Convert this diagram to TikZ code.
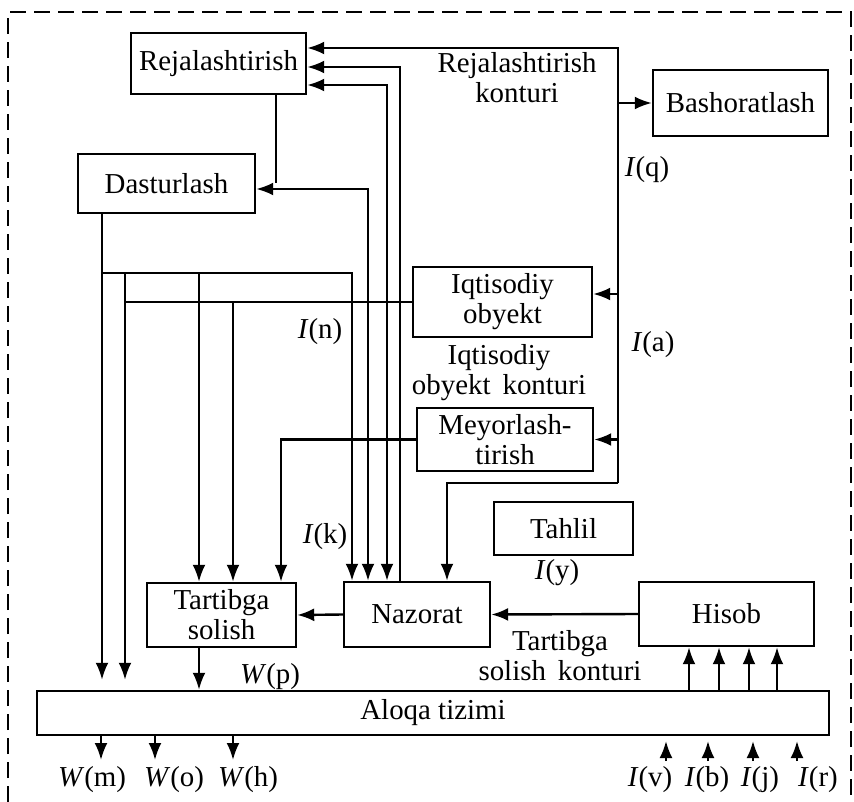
\documentclass[tikz,border=0pt]{standalone}
\usepackage{fontspec}
\setmainfont{Liberation Serif}
\usetikzlibrary{arrows.meta}
\newcommand{\sigI}[1]{\textit{I}(#1)}
\newcommand{\sigW}[1]{\textit{W}(#1)}
\tikzset{
  blok/.style={draw,inner sep=0pt,align=center},
  yozuv/.style={inner sep=0pt,align=center},
  ramka/.style={dash pattern=on 16bp off 8bp},
}
\begin{document}
\begin{tikzpicture}[x=1bp,y=-1bp,>={Latex[length=17bp,width=13bp]},line width=2.4bp,font=\fontsize{29}{30}\selectfont]
	\useasboundingbox (0,0) rectangle (854,802);
	\draw[ramka] (8,802) -- (8,12) -- (851,12) -- (851,802);
	% bloklar
	\node[blok,minimum width=175bp,minimum height=61bp] (rej) at (218.5,63.5) {Rejalashtirish};
	\node[blok,minimum width=177bp,minimum height=59bp] (dast) at (166.5,183.5) {Dasturlash};
	\node[blok,minimum width=175bp,minimum height=66bp] (bash) at (740.5,103) {Bashoratlash};
	\node[blok,minimum width=179bp,minimum height=70bp] (iqt) at (502.5,302) {Iqtisodiy\\obyekt};
	\node[blok,minimum width=176bp,minimum height=63bp] (mey) at (505,439.5) {Meyorlash-\\tirish};
	\node[blok,minimum width=139bp,minimum height=53bp] (tahlil) at (563.5,528.5) {Tahlil};
	\node[blok,minimum width=146bp,minimum height=65bp] (naz) at (417,614.5) {Nazorat};
	\node[blok,minimum width=175bp,minimum height=64bp] (hisob) at (726.5,614) {Hisob};
	\node[blok,minimum width=149bp,minimum height=64bp] (tart) at (221.5,615) {Tartibga\\solish};
	\node[blok,minimum width=792bp,minimum height=44bp] (aloqa) at (433,713) {Aloqa tizimi};
	% yozuvlar
	\node[yozuv] (rejk) at (517,78) {Rejalashtirish\\konturi};
	\node[yozuv] (iqtk) at (499,373) {Iqtisodiy\\obyekt\, konturi};
	\node[yozuv] (tartk) at (560,656) {Tartibga\\solish\, konturi};
	\node[yozuv] (iq) at (647,170) {\sigI{q}};
	\node[yozuv] (ia) at (653,345) {\sigI{a}};
	\node[yozuv] (in) at (320,332) {\sigI{n}};
	\node[yozuv] (ik) at (325,537) {\sigI{k}};
	\node[yozuv] (iy) at (557,573) {\sigI{y}};
	\node[yozuv] (wp) at (270,677) {\sigW{p}};
	\node[yozuv] (wm) at (92,780) {\sigW{m}};
	\node[yozuv] (wo) at (174,780) {\sigW{o}};
	\node[yozuv] (wh) at (248,780) {\sigW{h}};
	\node[yozuv] (iv) at (650,780) {\sigI{v}};
	\node[yozuv] (ib) at (707,780) {\sigI{b}};
	\node[yozuv] (ij) at (760,780) {\sigI{j}};
	\node[yozuv] (ir) at (818,780) {\sigI{r}};
	% rejalashtirish konturi
	\coordinate (qt) at (618,48);
	\coordinate (qb) at (618,483);
	\draw[->] (qb) -- (qt) -- (qt -| rej.east);
	\draw[->] (qt |- bash.west) -- (bash.west);
	\draw[->] (qt |- 0,294) -- (iqt.east |- 0,294);
	\draw[->] (qt |- mey.east) -- (mey.east);
	\draw[->] (qb) -| ([xshift=30bp]naz.north);
	\draw[->] ([xshift=-17bp]naz.north) |- ([yshift=-3.5bp]rej.east);
	\draw[<->] ([yshift=-21.5bp]rej.east) -| ([xshift=-30bp]naz.north);
	\draw[<->] ([yshift=-5.5bp]dast.east) -| ([xshift=-49bp]naz.north);
	\draw ([xshift=57.5bp]rej.south) -- ++(0,88);
	% taqsimlash chiziqlari
	\coordinate (d1) at ([xshift=-64.5bp]dast.south);
	\coordinate (b1) at (102,273);
	\coordinate (v2) at (125,273);
	\coordinate (t1) at ([xshift=-22.5bp]tart.north);
	\coordinate (t2) at ([xshift=11.5bp]tart.north);
	\draw[->,shorten >=10bp] (d1) -- (d1 |- aloqa.north);
	\draw[->] (b1) -| ([xshift=-65bp]naz.north);
	\draw[->] (b1 -| t1) -- (t1);
	\draw (iqt.west) -| (v2);
	\draw[->,shorten >=10bp] (v2) -- (v2 |- aloqa.north);
	\draw[->] (t2 |- iqt.west) -- (t2);
	\draw[->] (mey.west) -| ([xshift=59.5bp]tart.north);
	\draw[->] (naz.west) -- (tart.east);
	\draw[->] (hisob.west) -- (naz.east);
	\draw[->] ([xshift=-22.5bp]tart.south) -- ([xshift=-22.5bp]tart.south |- aloqa.north);
	% aloqa tizimi
	\foreach \x in {689,719,749,777}
		\draw[->] (\x,0 |- aloqa.north) -- (\x,0 |- hisob.south);
	\foreach \x in {101,155,233}
		\draw[->] (\x,0 |- aloqa.south) -- (\x,760);
	\foreach \x in {666,708,753,797}
		\draw[->] (\x,761) -- (\x,741);
\end{tikzpicture}
\end{document}
